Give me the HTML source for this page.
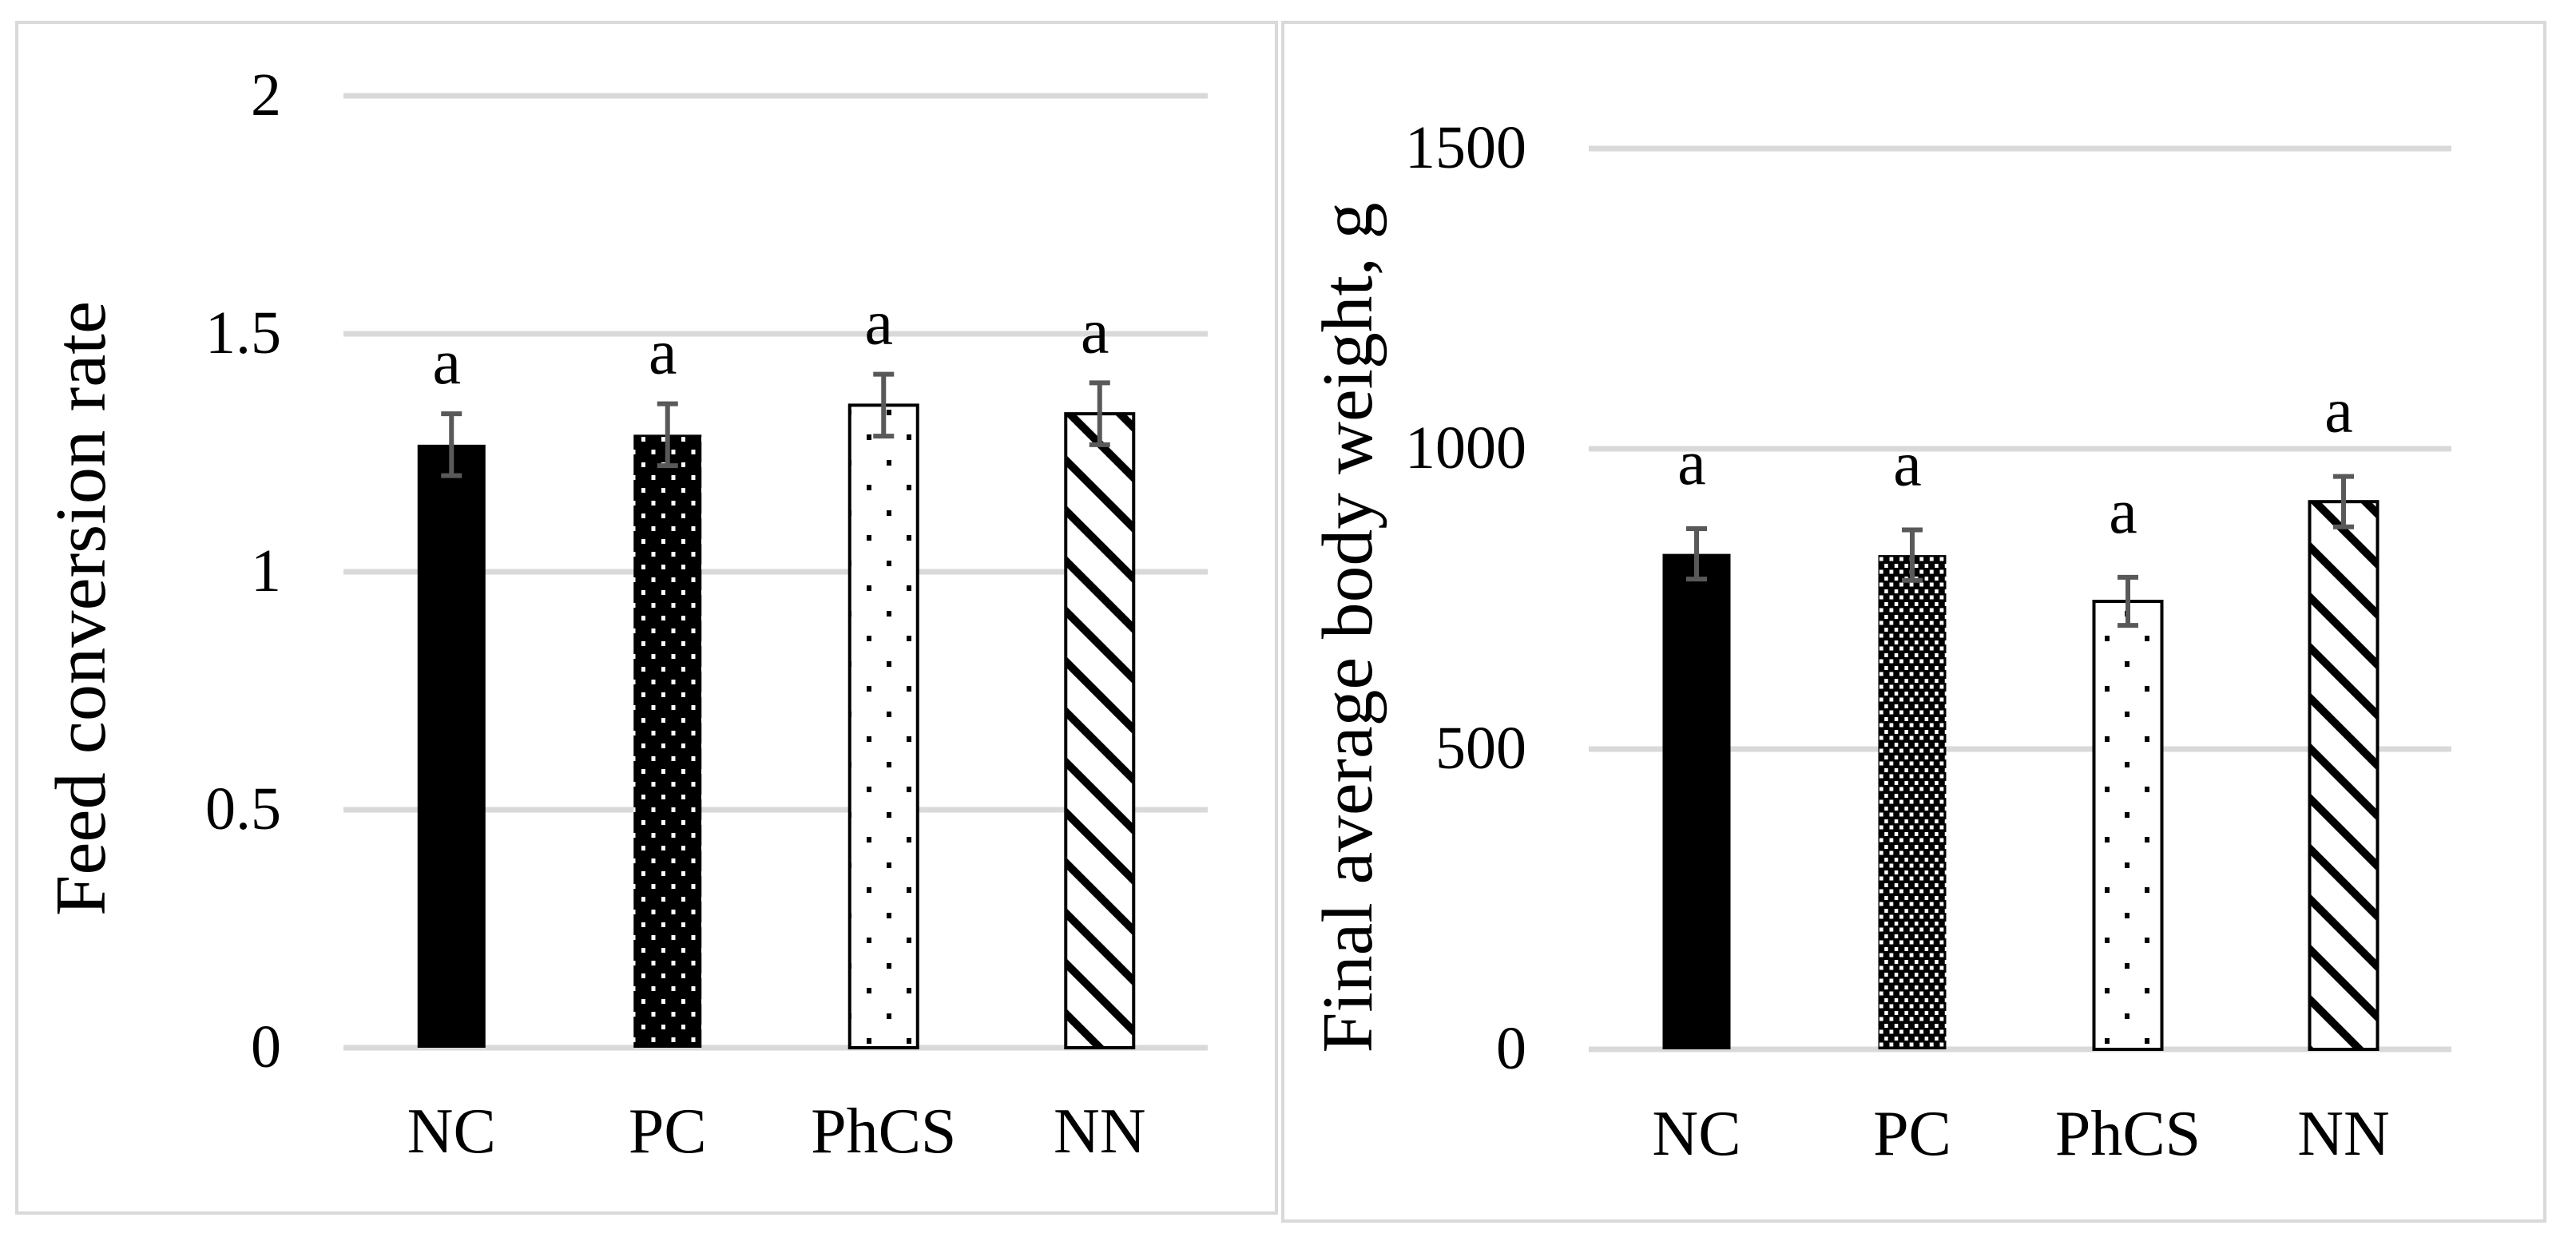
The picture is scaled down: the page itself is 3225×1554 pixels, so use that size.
<!DOCTYPE html>
<html><head><meta charset="utf-8"><style>
html,body{margin:0;padding:0;background:#fff;width:3225px;height:1554px;overflow:hidden}
svg text{font-family:"Liberation Serif",serif;fill:#000}
</style></head><body>
<svg id="fig" width="3225" height="1554" xmlns="http://www.w3.org/2000/svg">
<defs>
<pattern id="pcL" width="25" height="32" patternUnits="userSpaceOnUse"><rect width="25" height="32" fill="#000"/><rect x="3" y="3" width="5" height="6" fill="#fff"/><rect x="15.5" y="19" width="5" height="6" fill="#fff"/></pattern>
<pattern id="pcR" width="12.6" height="16" patternUnits="userSpaceOnUse"><rect width="12.6" height="16" fill="#000"/><rect x="3" y="2" width="4.5" height="5" fill="#fff"/><rect x="9.3" y="9.5" width="3.3" height="5" fill="#fff"/><rect x="0" y="9.5" width="1.5" height="5" fill="#fff"/></pattern>
<pattern id="phcs" width="50" height="63" patternUnits="userSpaceOnUse"><rect width="50" height="63" fill="#fff"/><rect x="10" y="9" width="6" height="7" fill="#000"/><rect x="35" y="40" width="6" height="7" fill="#000"/></pattern>
<pattern id="nn" width="63" height="63" patternUnits="userSpaceOnUse"><rect width="63" height="63" fill="#fff"/><path d="M-10,-5 L73,78 L73,64 L-10,-19 Z M-73,-5 L10,78 L10,64 L-73,-19 Z M53,-5 L136,78 L136,64 L53,-19Z" fill="#000"/></pattern>
</defs>
<rect x="21" y="28" width="1577" height="1491" fill="none" stroke="#d9d9d9" stroke-width="4"/>
<rect x="1606" y="28" width="1580" height="1501" fill="none" stroke="#d9d9d9" stroke-width="4"/>
<g id="left"></g>
<g id="right"></g>
</svg>
<script>
const categories = ["NC","PC","PhCS","NN"];
const fcrValues = [1.267,1.288,1.35,1.332];
const fcrErrors = [0.065,0.065,0.065,0.065];
const fcrTicks = [0,0.5,1,1.5,2];
const bwValues = [825,823,746,912];
const bwErrors = [42,42,40,42];
const bwTicks = [0,500,1000,1500];
const sigLetters = ["a","a","a","a"];
const NS="http://www.w3.org/2000/svg";
function mk(parent,tag,attrs,txt){const e=document.createElementNS(NS,tag);for(const k in attrs)e.setAttribute(k,attrs[k]);if(txt!==undefined)e.textContent=txt;parent.appendChild(e);return e;}
function draw(g,cfg){
  const y=v=>cfg.y0-(v-cfg.min)/(cfg.max-cfg.min)*(cfg.y0-cfg.y1);
  const bw=(cfg.x1-cfg.x0)/categories.length;
  cfg.ticks.forEach(t=>{
    const l=mk(g,'line',{x1:cfg.x0,x2:cfg.x1,y1:y(t),y2:y(t),stroke:'#d9d9d9','stroke-width':7});
    
    
    const tx=mk(g,'text',{x:cfg.tickX,y:y(t)+24,'text-anchor':'end','font-size':76},String(t));
    
    
  });
  categories.forEach((c,i)=>{
    const cx=cfg.x0+bw*(i+0.5), w=85, v=cfg.values[i], e=cfg.errors[i];
    const fill=cfg.fills[i], outlined=(i>=2);
    const r=mk(g,'rect',{x:cx-w/2,y:y(v),width:w,height:y(0)-y(v),fill:fill,stroke:outlined?'#000':'none','stroke-width':4});
    
    
    const eb=mk(g,'path',{d:`M${cx-13},${y(v+e)}H${cx+13}M${cx},${y(v+e)}V${y(v-e)}M${cx-13},${y(v-e)}H${cx+13}`,stroke:'#595959','stroke-width':6,fill:'none'});
    
    
    const s=mk(g,'text',{x:cx-6,y:y(v+e)-cfg.sigGap,'text-anchor':'middle','font-size':80},sigLetters[i]);
    
    
    const cl=mk(g,'text',{x:cx,y:cfg.catY,'text-anchor':'middle','font-size':80},c);
    
    
  });
  const tt=mk(g,'text',{x:0,y:0,'text-anchor':'middle','font-size':90,textLength:cfg.titleLen,lengthAdjust:'spacingAndGlyphs',transform:`translate(${cfg.titleX},${cfg.titleY}) rotate(-90)`},cfg.title);
  
  
}
draw(document.getElementById('left'),{x0:430,x1:1512,y0:1312,y1:120,min:0,max:2,ticks:fcrTicks,values:fcrValues,errors:fcrErrors,tickX:352,catY:1443,titleX:131,titleY:762,titleLen:770,sigGap:38,title:"Feed conversion rate",fills:['#000','url(#pcL)','url(#phcs)','url(#nn)']});
draw(document.getElementById('right'),{x0:1989,x1:3069,y0:1314,y1:186,min:0,max:1500,ticks:bwTicks,values:bwValues,errors:bwErrors,tickX:1911,catY:1446,titleX:1717,titleY:786,titleLen:1065,sigGap:56,title:"Final average body weight, g",fills:['#000','url(#pcR)','url(#phcs)','url(#nn)']});
</script>
</body></html>
